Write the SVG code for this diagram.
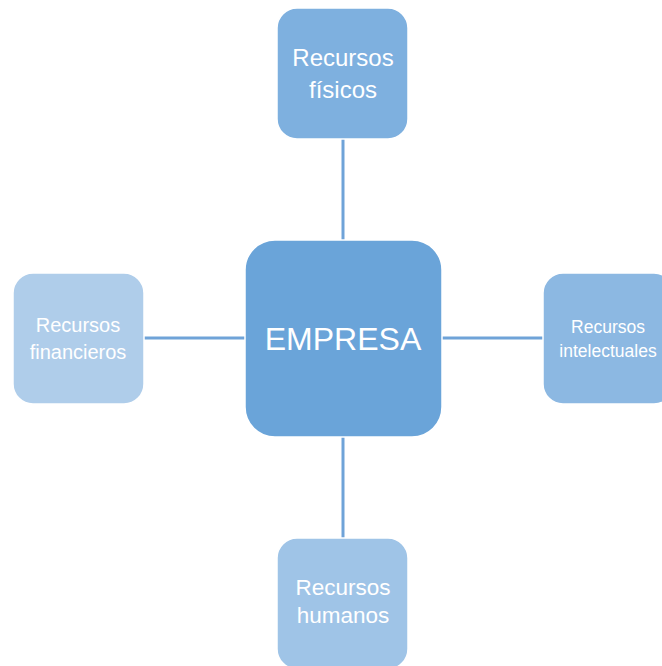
<svg xmlns="http://www.w3.org/2000/svg" width="662" height="666" viewBox="0 0 662 666">
<style>
.box{stroke:#ffffff;stroke-width:1.5}
.conn{stroke:#6fa3d8;stroke-width:3;fill:none}
text{font-family:"Liberation Sans",Arial,sans-serif;fill:#ffffff;text-anchor:middle}
</style>
<rect width="662" height="666" fill="#ffffff"/>
<g id="connectors">
<line class="conn" x1="343" y1="139" x2="343" y2="240"/>
<line class="conn" x1="343" y1="437" x2="343" y2="538"/>
<line class="conn" x1="144" y1="338" x2="245" y2="338"/>
<line class="conn" x1="442" y1="338" x2="543" y2="338"/>
</g>
<g id="empresa">
<rect class="box" x="245" y="240" width="197" height="197" rx="30" fill="#6aa4d9"/>
<text x="343" y="350" font-size="32">EMPRESA</text>
</g>
<g id="fisicos">
<rect class="box" x="277" y="8" width="131" height="131" rx="20" fill="#7eb0df"/>
<text x="343" y="66" font-size="24">Recursos</text>
<text x="343" y="98" font-size="24">físicos</text>
</g>
<g id="financieros">
<rect class="box" x="13" y="273" width="131" height="131" rx="20" fill="#afcdea"/>
<text x="78" y="332" font-size="20">Recursos</text>
<text x="78" y="359" font-size="20">financieros</text>
</g>
<g id="intelectuales">
<rect class="box" x="543" y="273" width="131" height="131" rx="20" fill="#8cb8e2"/>
<text x="608" y="333" font-size="17.5">Recursos</text>
<text x="608" y="357" font-size="17.5">intelectuales</text>
</g>
<g id="humanos">
<rect class="box" x="277" y="538" width="131" height="131" rx="20" fill="#9fc4e7"/>
<text x="343" y="595" font-size="22.5">Recursos</text>
<text x="343" y="623" font-size="22.5">humanos</text>
</g>
</svg>
